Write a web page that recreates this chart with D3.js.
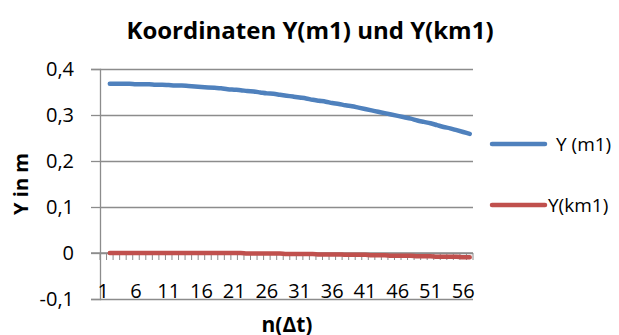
<!DOCTYPE html>
<html>
<head>
<meta charset="utf-8">
<script src="https://cdn.jsdelivr.net/npm/d3@7"></script>
<style>
  html, body { margin: 0; padding: 0; background: #fff; }
  svg { display: block; }
  text { font-family: "Open Sans", "Noto Sans", sans-serif; fill: #000; }
</style>
</head>
<body>
<svg id="chart" width="619" height="335"></svg>
<script>
// Time steps n(Δt): 1 … 57
const categories = d3.range(1, 58);

// Y coordinate of m1 in metres (no value at step 1)
const yM1 = [null,
  0.368, 0.368, 0.368, 0.368, 0.367, 0.367, 0.367, 0.366, 0.366, 0.365,
  0.364, 0.364, 0.363, 0.362, 0.361, 0.360, 0.359, 0.358, 0.356, 0.355,
  0.354, 0.352, 0.351, 0.349, 0.347, 0.346, 0.344, 0.342, 0.340, 0.338,
  0.336, 0.333, 0.331, 0.329, 0.326, 0.324, 0.321, 0.319, 0.316, 0.313,
  0.310, 0.307, 0.304, 0.301, 0.298, 0.295, 0.292, 0.288, 0.285, 0.282,
  0.278, 0.274, 0.271, 0.267, 0.263, 0.259];

// Y coordinate of km1 in metres (no value at step 1)
const yKm1 = [null,
  0.000, 0.000, 0.000, 0.000, 0.000, 0.000, 0.000, 0.000, 0.000, 0.000,
  0.000, 0.000, 0.000, 0.000, 0.000, 0.000, 0.000, 0.000, 0.000, 0.000,
  0.000, -0.001, -0.001, -0.001, -0.001, -0.001, -0.001, -0.002, -0.002, -0.002,
  -0.002, -0.002, -0.003, -0.003, -0.003, -0.003, -0.004, -0.004, -0.004, -0.004,
  -0.005, -0.005, -0.005, -0.006, -0.006, -0.006, -0.006, -0.007, -0.007, -0.007,
  -0.008, -0.008, -0.008, -0.008, -0.009, -0.009];

const yTicks = [0.4, 0.3, 0.2, 0.1, 0, -0.1];
const xTickLabels = [1, 6, 11, 16, 21, 26, 31, 36, 41, 46, 51, 56];

const seriesNames = ["Y (m1)", "Y(km1)"];
const seriesColors = ["#4F81BD", "#C0504D"];

const svg = d3.select("#chart");
const plot = { left: 100, right: 473, top: 69, bottom: 299 };

const x = d3.scaleBand()
  .domain(categories)
  .range([plot.left, plot.right])
  .paddingInner(0).paddingOuter(0);

const y = d3.scaleLinear()
  .domain([-0.1, 0.4])
  .range([plot.bottom, plot.top]);

const yLabel = v => (v === 0 ? "0" : d3.format(".1f")(v).replace(".", ",").replace("−", "-"));

// horizontal gridlines
const grid = svg.append("g")
  .attr("transform", `translate(${plot.left},0)`)
  .call(d3.axisLeft(y).tickValues(yTicks).tickSize(-(plot.right - plot.left)).tickFormat(""));
grid.select(".domain").remove();
grid.selectAll(".tick line").attr("stroke", "#8c8c8c").attr("stroke-width", 1.3);

// value axis with outward ticks
const yAx = svg.append("g")
  .attr("transform", `translate(${plot.left},0)`)
  .call(d3.axisLeft(y).tickValues(yTicks).tickSize(9).tickPadding(17).tickFormat(yLabel));
yAx.select(".domain").attr("stroke", "#8c8c8c").attr("stroke-width", 1.3);
yAx.selectAll(".tick line").attr("stroke", "#8c8c8c").attr("stroke-width", 1.3);
yAx.selectAll(".tick text")
  .style("font-size", "20px").style("font-family", "'Open Sans', sans-serif").attr("fill", "#000");

// category axis along y = 0, tick marks at band boundaries
const boundaries = categories.map(c => x(c)).concat([plot.right]);
const xAxisG = svg.append("g");
xAxisG.append("line")
  .attr("x1", plot.left - 9).attr("x2", plot.right)
  .attr("y1", y(0)).attr("y2", y(0))
  .attr("stroke", "#8c8c8c").attr("stroke-width", 1.3);
xAxisG.selectAll("line.tk").data(boundaries).join("line")
  .attr("class", "tk")
  .attr("x1", d => d).attr("x2", d => d)
  .attr("y1", y(0)).attr("y2", y(0) + 7)
  .attr("stroke", "#8c8c8c").attr("stroke-width", 1);

// category labels placed low, above the bottom gridline
svg.append("g").selectAll("text").data(xTickLabels).join("text")
  .attr("x", d => x(d) + x.bandwidth() / 2)
  .attr("y", 291)
  .attr("dy", "0.35em")
  .attr("text-anchor", "middle")
  .style("font-size", "20px")
  .text(d => d);

// series lines
const series = [yM1, yKm1];
const line = d3.line()
  .defined(d => d.v !== null)
  .x(d => x(d.c) + x.bandwidth() / 2)
  .y(d => y(d.v))
  .curve(d3.curveMonotoneX);

series.forEach((vals, i) => {
  svg.append("path")
    .datum(categories.map((c, j) => ({ c, v: vals[j] })))
    .attr("fill", "none")
    .attr("stroke", seriesColors[i])
    .attr("stroke-width", 4.5)
    .attr("stroke-linecap", "round")
    .attr("stroke-linejoin", "round")
    .attr("d", line);
});

// legend
const legendY = [144, 205];
const legendTextX = [556, 548];
seriesNames.forEach((name, i) => {
  svg.append("line")
    .attr("x1", 492).attr("x2", 545)
    .attr("y1", legendY[i]).attr("y2", legendY[i])
    .attr("stroke", seriesColors[i]).attr("stroke-width", 4.5)
    .attr("stroke-linecap", "round");
  svg.append("text")
    .attr("x", legendTextX[i]).attr("y", legendY[i])
    .attr("dy", "0.35em")
    .style("font-size", "19px")
    .text(name);
});

// titles
svg.append("text")
  .attr("x", 310).attr("y", 39)
  .attr("text-anchor", "middle")
  .style("font-size", "24px").style("font-weight", "bold")
  .text("Koordinaten Y(m1) und Y(km1)");

svg.append("text")
  .attr("transform", "translate(21,184) rotate(-90)")
  .attr("text-anchor", "middle")
  .attr("dy", "0.35em")
  .style("font-size", "20px").style("font-weight", "bold")
  .text("Y in m");

svg.append("text")
  .attr("x", 287).attr("y", 332)
  .attr("text-anchor", "middle")
  .style("font-size", "21px").style("font-weight", "bold")
  .text("n(Δt)");
</script>
</body>
</html>
